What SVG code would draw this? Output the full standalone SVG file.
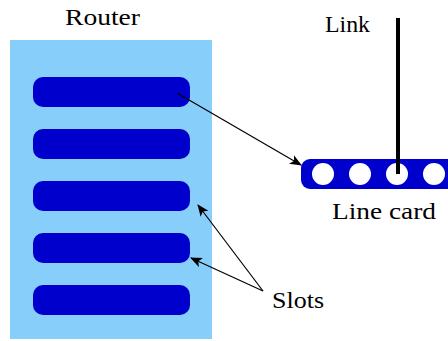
<svg xmlns="http://www.w3.org/2000/svg" width="448" height="341" viewBox="0 0 448 341">
<defs>
<style>
text{font-family:'Liberation Serif','Times New Roman',serif;font-size:23.5px;fill:#000}
.slot{fill:#0000cc}
.hole{fill:#fff}
.c{stroke:#000;stroke-width:1.2;fill:none}
</style>
<marker id="ah" viewBox="0 0 12 10" refX="11" refY="5" markerWidth="12" markerHeight="10" markerUnits="userSpaceOnUse" orient="auto">
<path d="M0,0 L12,5 L0,10 L3,5 Z" fill="#000"/>
</marker>
</defs>
<rect width="448" height="341" fill="#fff"/>
<g id="router">
<rect x="10" y="40" width="202" height="299" fill="#87cefa"/>
<text x="65" y="25" textLength="75" lengthAdjust="spacingAndGlyphs">Router</text>
</g>
<g id="slots">
<rect class="slot" x="33" y="77" width="157" height="30" rx="10"/>
<rect class="slot" x="33" y="129" width="157" height="30" rx="10"/>
<rect class="slot" x="33" y="181" width="157" height="30" rx="10"/>
<rect class="slot" x="33" y="233" width="157" height="30" rx="10"/>
<rect class="slot" x="33" y="285" width="157" height="30" rx="10"/>
</g>
<g id="linecard">
<rect class="slot" x="301" y="159" width="160" height="30" rx="9"/>
<circle class="hole" cx="323" cy="174" r="11"/>
<circle class="hole" cx="360" cy="174" r="11"/>
<circle class="hole" cx="397" cy="174" r="11"/>
<circle class="hole" cx="434" cy="174" r="11"/>
<text x="332" y="219" textLength="104" lengthAdjust="spacingAndGlyphs">Line card</text>
</g>
<g id="link">
<line x1="398" y1="18" x2="398" y2="174" stroke="#000" stroke-width="4"/>
<text x="325" y="32" textLength="45" lengthAdjust="spacingAndGlyphs">Link</text>
</g>
<g id="slotslabel">
<text x="272" y="308" textLength="52" lengthAdjust="spacingAndGlyphs">Slots</text>
</g>
<g id="connectors">
<line class="c" x1="177" y1="93" x2="301" y2="165" marker-end="url(#ah)"/>
<line class="c" x1="263" y1="291" x2="198" y2="205" marker-end="url(#ah)"/>
<line class="c" x1="263" y1="291" x2="191" y2="258" marker-end="url(#ah)"/>
</g>
</svg>
